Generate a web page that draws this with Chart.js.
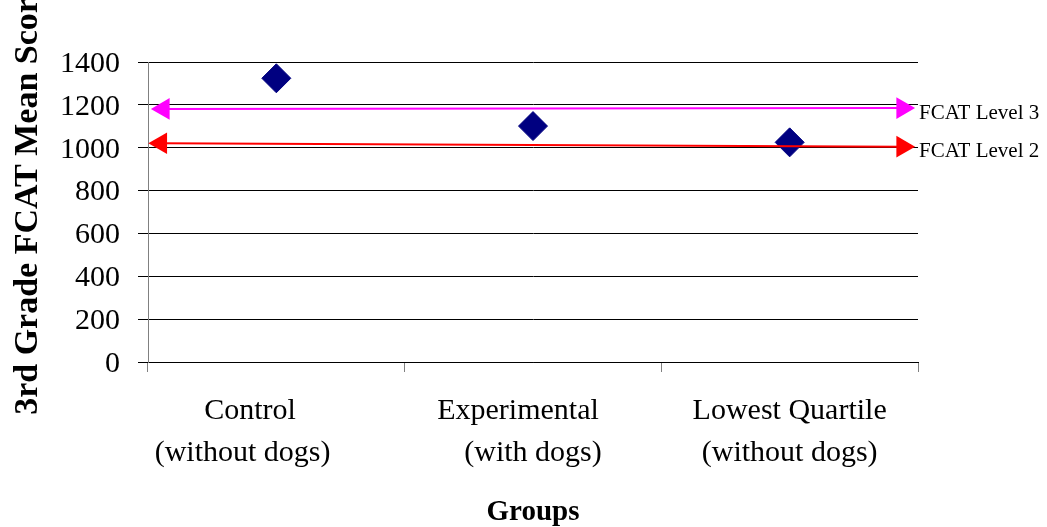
<!DOCTYPE html>
<html>
<head>
<meta charset="utf-8">
<script src="https://cdn.jsdelivr.net/npm/chart.js@4.4.0/dist/chart.umd.min.js"></script>
<style>
html, body { margin: 0; padding: 0; background: #fff; }
#wrap { width: 1047px; height: 527px; }
</style>
</head>
<body>
<div id="wrap"><canvas id="fcatChart"></canvas></div>
<script>
// category labels (trailing spaces keep the original off-centre placement)
const groups = [
    ['Control       ', '(without dogs)         '],
    ['Experimental    ', '(with dogs)'],
    ['Lowest Quartile', '(without dogs)']
];
const meanScores = [1324, 1101, 1025];

// reference lines, x in group units (0..3 spans the plot)
const level3X = [0.06, 2.94];
const level3Y = [1181, 1185];
const level2X = [0.05, 2.94];
const level2Y = [1021, 1005];

const serif = '"Liberation Serif", "Times New Roman", serif';

function linePoints(xs, ys) {
    return xs.map((x, i) => ({ x: x, y: ys[i] }));
}

const levelLabels = {
    id: 'levelLabels',
    afterDatasetsDraw(chart) {
        const ctx = chart.ctx;
        ctx.save();
        ctx.font = '21px ' + serif;
        ctx.fillStyle = '#000';
        ctx.textBaseline = 'middle';
        ctx.textAlign = 'left';
        chart.data.datasets.forEach((ds, i) => {
            if (!ds.endLabel) return;
            const pts = chart.getDatasetMeta(i).data;
            const last = pts[pts.length - 1];
            ctx.fillText(ds.endLabel, last.x + ds.pointRadius + 4, last.y + 5);
        });
        ctx.restore();
    }
};

const arrowStyle = {
    pointStyle: 'triangle',
    pointRadius: 12.5,
    pointRotation: [-90, 90],
    borderWidth: 2,
    pointBorderWidth: 0,
    showLine: true,
    fill: false,
    tension: 0,
    clip: false,
    xAxisID: 'xLine',
    order: 0
};

new Chart(document.getElementById('fcatChart'), {
    type: 'line',
    data: {
        labels: groups,
        datasets: [
            Object.assign({
                label: 'FCAT Level 3',
                endLabel: 'FCAT Level 3',
                data: linePoints(level3X, level3Y),
                borderColor: '#ff00ff',
                backgroundColor: '#ff00ff',
                pointBackgroundColor: '#ff00ff'
            }, arrowStyle),
            Object.assign({
                label: 'FCAT Level 2',
                endLabel: 'FCAT Level 2',
                data: linePoints(level2X, level2Y),
                borderColor: '#ff0000',
                backgroundColor: '#ff0000',
                pointBackgroundColor: '#ff0000'
            }, arrowStyle),
            {
                label: 'Mean score',
                data: meanScores,
                showLine: false,
                pointStyle: 'rectRot',
                pointRadius: 14.5,
                pointBackgroundColor: '#000080',
                pointBorderColor: '#000080',
                pointBorderWidth: 1,
                xAxisID: 'x',
                clip: false,
                order: 1
            }
        ]
    },
    options: {
        responsive: true,
        maintainAspectRatio: false,
        animation: false,
        layout: { padding: { top: 62, right: 129, left: 0, bottom: 0 } },
        plugins: {
            legend: { display: false },
            tooltip: { enabled: false }
        },
        scales: {
            x: {
                type: 'category',
                offset: true,
                grid: {
                    display: true,
                    drawOnChartArea: false,
                    offset: true,
                    tickLength: 10,
                    tickColor: '#808080'
                },
                border: { display: true, color: '#000' },
                ticks: {
                    font: { family: serif, size: 30, lineHeight: 1.37 },
                    color: '#000',
                    padding: 19,
                    maxRotation: 0,
                    autoSkip: false
                },
                title: {
                    display: true,
                    text: 'Groups',
                    color: '#000',
                    font: { family: serif, size: 29, weight: 'bold', lineHeight: 1 },
                    padding: { top: 0, bottom: 0 }
                },
                afterFit(scale) { scale.height = 165; }
            },
            xLine: {
                type: 'linear',
                display: false,
                min: 0,
                max: 3
            },
            y: {
                min: 0,
                max: 1400,
                ticks: {
                    stepSize: 200,
                    font: { family: serif, size: 30 },
                    color: '#000',
                    padding: 18,
                    labelOffset: 2,
                    callback: (v) => String(v)
                },
                grid: {
                    color: '#000',
                    tickColor: '#000',
                    tickLength: 10
                },
                border: { color: '#808080' },
                title: {
                    display: true,
                    text: '   3rd Grade FCAT Mean Score',
                    color: '#000',
                    font: { family: serif, size: 34, weight: 'bold' },
                    padding: { top: 8, bottom: 0 }
                },
                afterFit(scale) { scale.width = 148; }
            }
        }
    },
    plugins: [levelLabels]
});
</script>
</body>
</html>
